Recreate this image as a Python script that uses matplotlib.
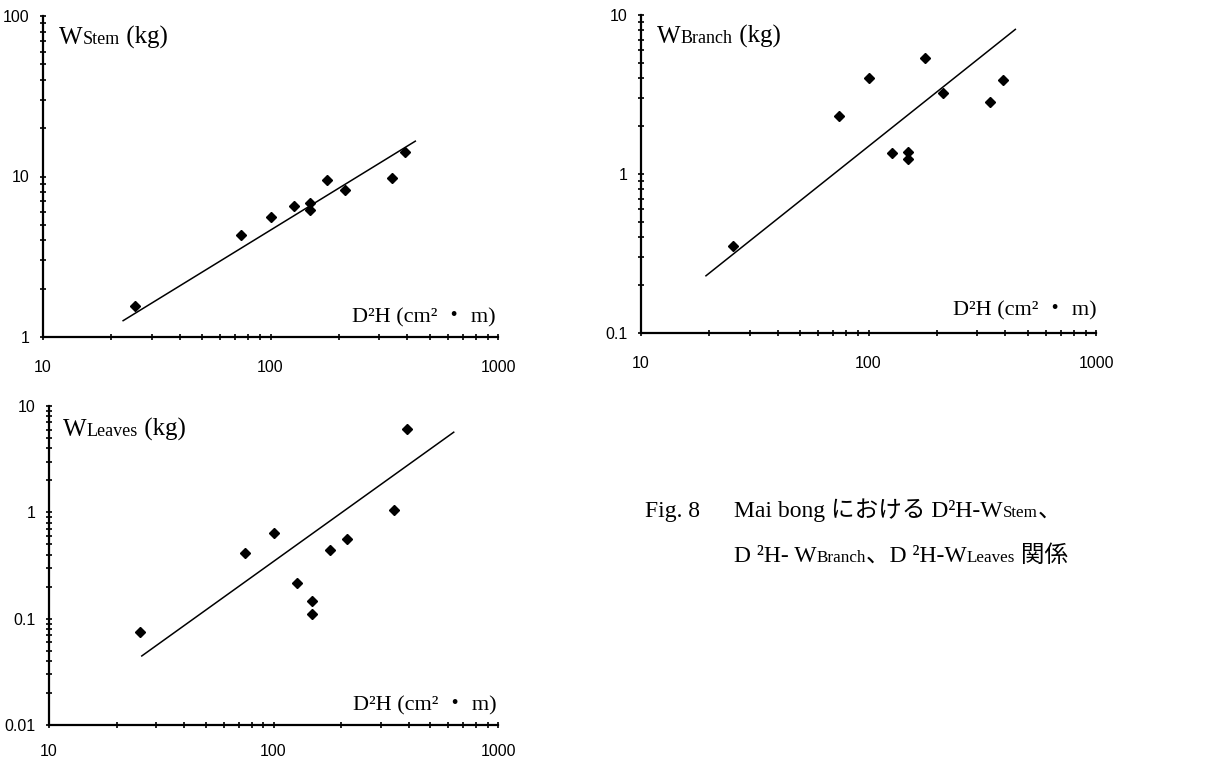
import matplotlib
matplotlib.use("Agg")
import matplotlib.pyplot as plt
from matplotlib.ticker import LogLocator, NullFormatter
from matplotlib.offsetbox import TextArea, HPacker, AnnotationBbox

# D2H (cm2 m) for the sampled trees
d2h = [25.5, 74.5, 100, 127, 149, 149, 178, 213, 343, 392]
# biomass (kg)
w_stem = [1.55, 4.32, 5.62, 6.58, 6.87, 6.18, 9.5, 8.24, 9.84, 14.2]
w_branch = [0.35, 2.31, 4.0, 1.36, 1.38, 1.24, 5.38, 3.22, 2.85, 3.90]
w_leaves = [0.0744, 0.412, 0.64, 0.218, 0.148, 0.111, 0.443, 0.562, 1.05, 6.09]

# fitted power-law lines (end points)
fit_stem_x, fit_stem_y = [22.5, 433], [1.264, 16.6]
fit_branch_x, fit_branch_y = [19.3, 442], [0.229, 8.12]
fit_leaves_x, fit_leaves_y = [25.9, 635], [0.0446, 5.67]

x_ticks = [10, 100, 1000]
x_ticklabels = ["10", "100", "1000"]

SERIF = ["Liberation Serif", "Noto Sans CJK JP"]
SANS = "Liberation Sans"
W, H = 1206, 760

fig = plt.figure(figsize=(W / 100, H / 100), dpi=100)


def frac(l, t, r, b):
    return [l / W, 1 - b / H, (r - l) / W, (b - t) / H]


def rich(parts, x, y, size=16, sub=0.72):
    # parts: list of (text, small?) placed at pixel x, y (top-origin, box bottom)
    boxes = []
    for s, small in parts:
        boxes.append(TextArea(s, textprops=dict(family=SERIF, size=size * sub if small else size,
                                                color="black")))
    pack = HPacker(children=boxes, align="baseline", pad=0, sep=0)
    ab = AnnotationBbox(pack, (x / W, 1 - y / H), xycoords="figure fraction",
                        frameon=False, box_alignment=(0, 0), pad=0)
    fig.add_artist(ab)


def panel(rect, x, y, fx, fy, ylim, yticks, ylabels, xpad=14):
    ax = fig.add_axes(rect)
    ax.set_xscale("log")
    ax.set_yscale("log")
    ax.set_xlim(10, 1000)
    ax.set_ylim(*ylim)
    ax.plot(x, y, linestyle="none", marker="D", markersize=5, color="black")
    ax.plot(fx, fy, color="black", linewidth=1.1)
    for s in ["top", "right"]:
        ax.spines[s].set_visible(False)
    for s in ["left", "bottom"]:
        ax.spines[s].set_linewidth(1.6)
    ax.set_xticks(x_ticks)
    ax.set_xticklabels(x_ticklabels)
    ax.set_yticks(yticks)
    ax.set_yticklabels(ylabels)
    ax.xaxis.set_minor_locator(LogLocator(base=10, subs=range(2, 10)))
    ax.yaxis.set_minor_locator(LogLocator(base=10, subs=range(2, 10)))
    ax.xaxis.set_minor_formatter(NullFormatter())
    ax.yaxis.set_minor_formatter(NullFormatter())
    ax.tick_params(which="both", direction="inout", length=5, width=1.2)
    ax.tick_params(axis="x", which="major", pad=xpad)
    ax.tick_params(axis="y", which="major", pad=7)
    for lab in ax.get_xticklabels() + ax.get_yticklabels():
        lab.set_family(SANS)
        lab.set_fontsize(11.5)
    ax.set_ylim(*ylim)
    return ax


panel(frac(43, 16, 498, 337), d2h, w_stem, fit_stem_x, fit_stem_y,
      (1, 100), [1, 10, 100], ["1", "10", "100"])
panel(frac(641, 15, 1096, 333), d2h, w_branch, fit_branch_x, fit_branch_y,
      (0.1, 10), [0.1, 1, 10], ["0.1", "1", "10"])
panel(frac(49, 406, 498, 725), d2h, w_leaves, fit_leaves_x, fit_leaves_y,
      (0.01, 10), [0.01, 0.1, 1, 10], ["0.01", "0.1", "1", "10"], xpad=11)

# labels inside the panels
rich([("W", False), ("Stem", True), (" (kg)", False)], 59, 49, size=18)
rich([("W", False), ("Branch", True), (" (kg)", False)], 657, 48, size=18)
rich([("W", False), ("Leaves", True), (" (kg)", False)], 63, 441, size=18)
rich([("D²H (cm² ・ m)", False)], 352, 327)
rich([("D²H (cm² ・ m)", False)], 953, 320)
rich([("D²H (cm² ・ m)", False)], 353, 715)

# caption
rich([("Fig. 8", False)], 645, 522, size=17)
rich([("Mai bong における D²H-W", False), ("Stem", True), ("、", False)], 734, 522, size=17)
rich([("D ²H- W", False), ("Branch", True), ("、D ²H-W", False), ("Leaves", True),
      (" 関係", False)], 734, 567, size=17)

fig.savefig("out.png", dpi=100)
